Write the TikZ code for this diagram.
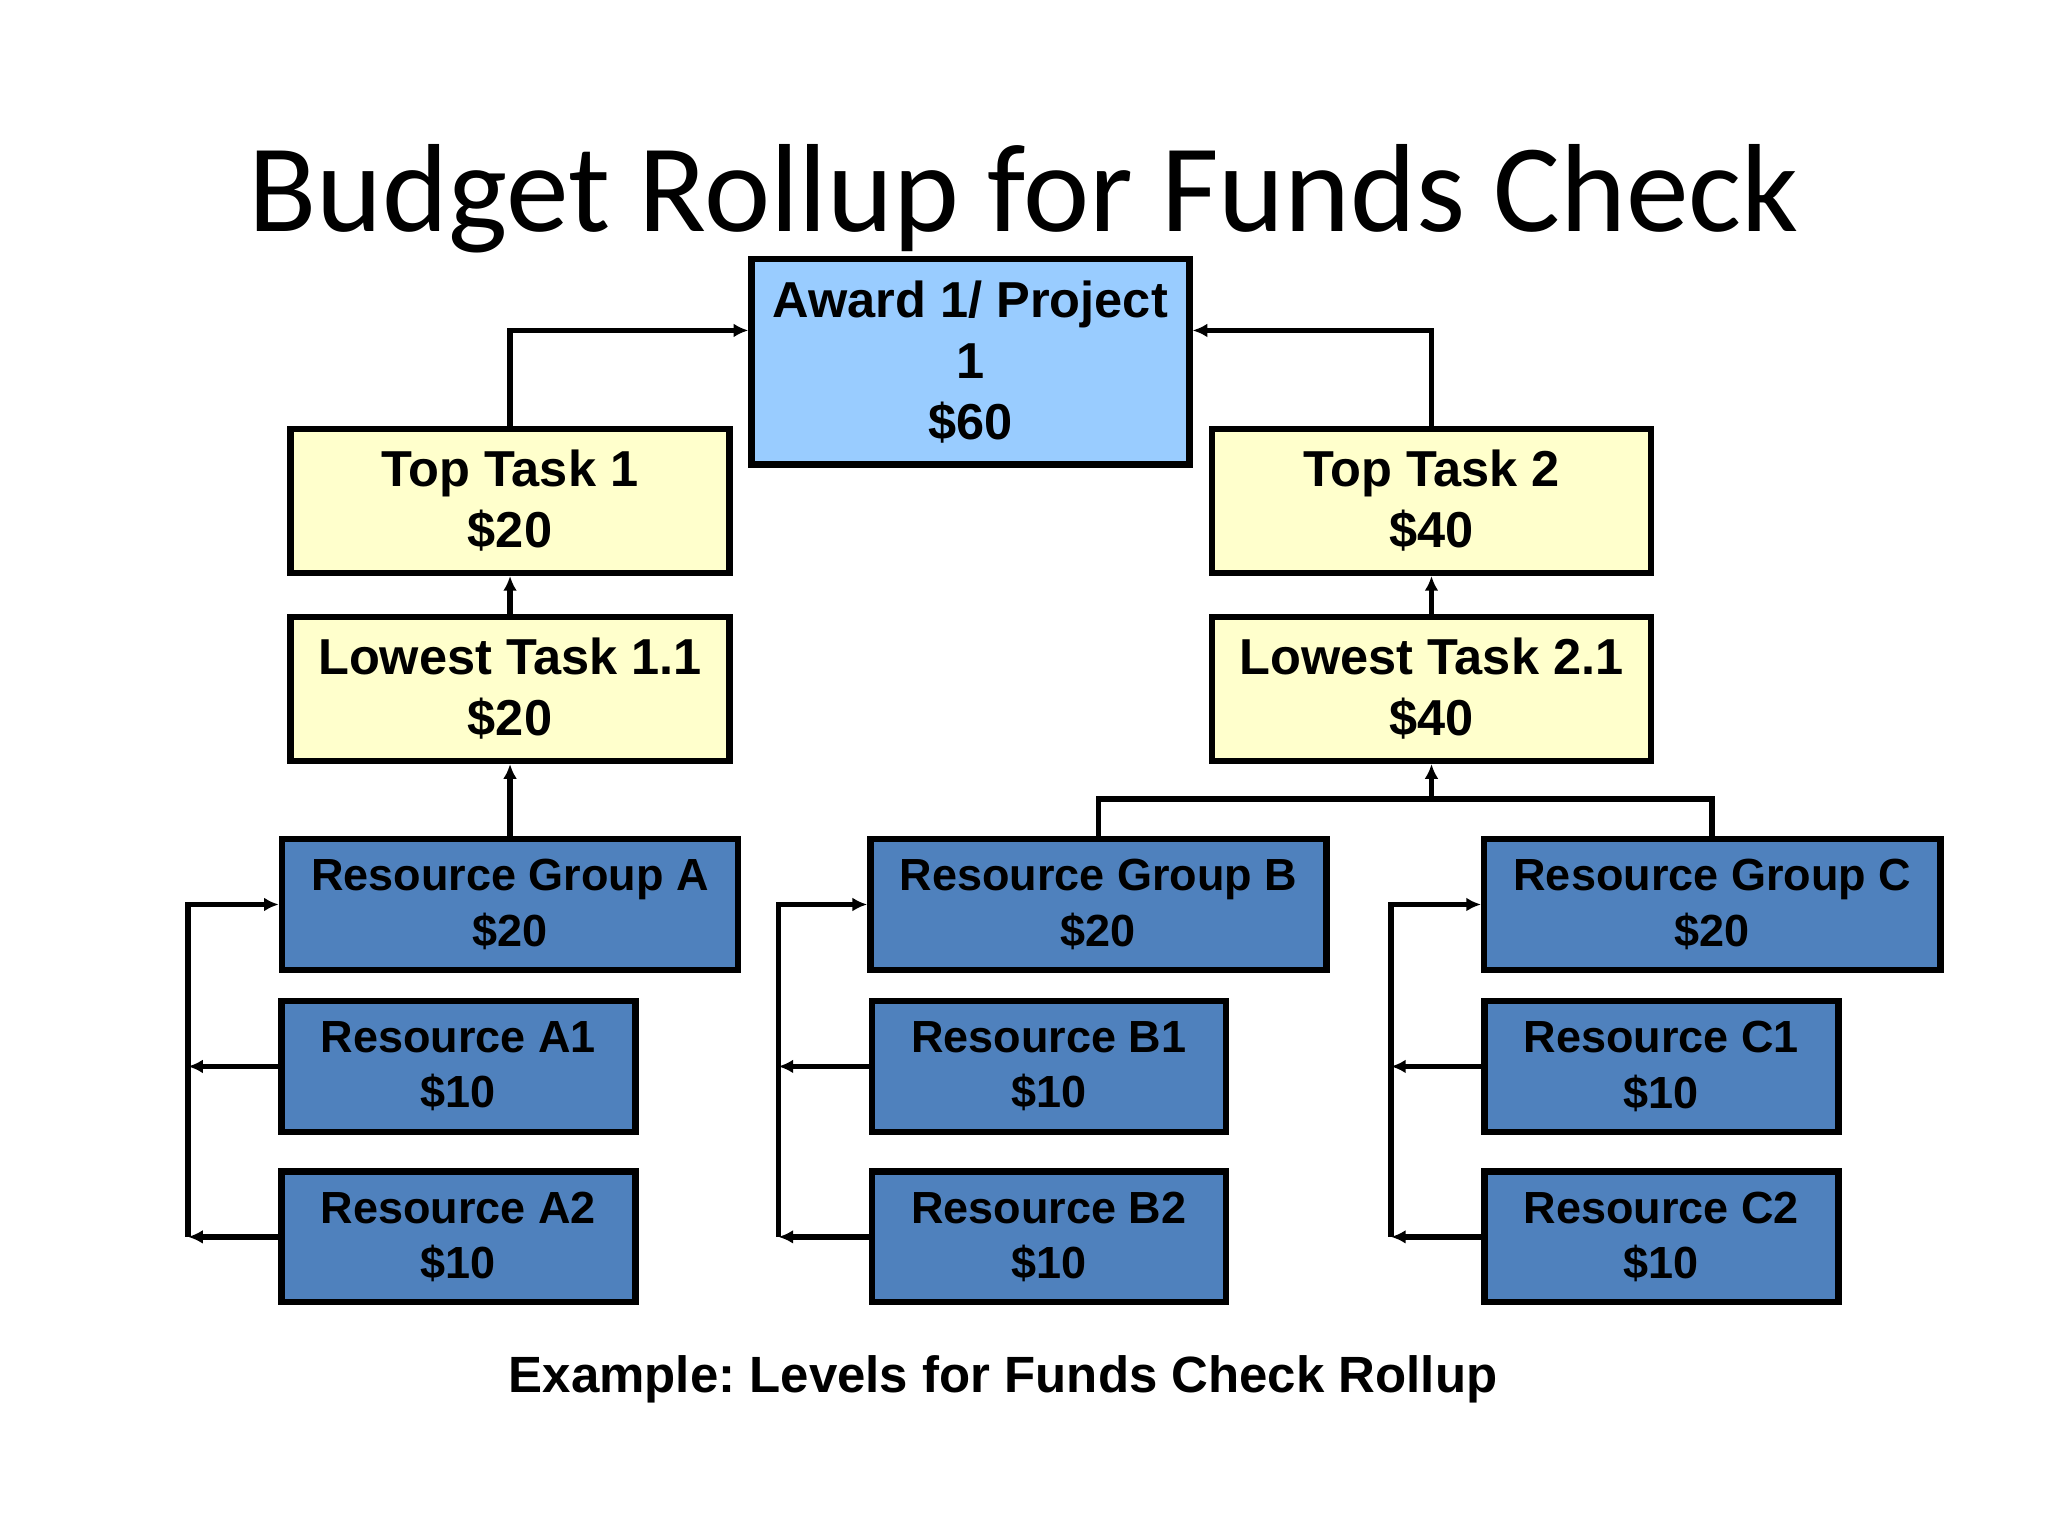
\documentclass[tikz,border=0pt]{standalone}
\usepackage{fontspec}
\setmainfont{Liberation Sans}
\newfontfamily\titlefont{Carlito}
\usetikzlibrary{arrows.meta}
\definecolor{resblue}{HTML}{4F81BD}
\definecolor{awardblue}{HTML}{99CCFF}
\definecolor{taskyellow}{HTML}{FFFFCC}
\frenchspacing
\begin{document}
\begin{tikzpicture}[x=0.01cm,y=-0.01cm,
  box/.style={draw=black, line width=1.4pt, rectangle, inner sep=0pt, align=center,
    font=\bfseries\fontsize{11}{13.3}\selectfont},
  award/.style={box, fill=awardblue, minimum width=3.35cm, minimum height=1.57cm},
  task/.style={box, fill=taskyellow, minimum width=3.36cm, minimum height=1.10cm},
  group/.style={box, fill=resblue, minimum width=3.49cm, minimum height=1.00cm,
    font=\bfseries\fontsize{9.8}{12}\selectfont},
  res/.style={box, fill=resblue, minimum width=2.71cm, minimum height=1.00cm,
    font=\bfseries\fontsize{9.8}{12}\selectfont},
  link/.style={line width=1.25pt},
  conn/.style={line width=1.25pt, -{Latex[length=3.2pt,width=3pt]}}]
\useasboundingbox (0,0) rectangle (1568,1176);
\fill[white] (0,0) rectangle (1568,1176);

\node[font=\titlefont\fontsize{27.3}{32}\selectfont, anchor=base] (title) at (784,177) {Budget Rollup for Funds Check};

\node[award] (award) at (743,277) {Award 1/ Project\\1\\\$60};
\node[task] (tt1) at (390.5,383.5) {Top Task 1\\\$20};
\node[task] (tt2) at (1096,383.5) {Top Task 2\\\$40};
\node[task] (lt1) at (390.5,527.5) {Lowest Task 1.1\\\$20};
\node[task] (lt2) at (1096,527.5) {Lowest Task 2.1\\\$40};

\node[group] (rgA) at (390.5,692.5) {Resource Group A\\\$20};
\node[group] (rgB) at (841,692.5) {Resource Group B\\\$20};
\node[group] (rgC) at (1311,692.5) {Resource Group C\\\$20};

\node[res] (rA1) at (351,816.5) {Resource A1\\\$10};
\node[res] (rA2) at (351,947) {Resource A2\\\$10};
\node[res] (rB1) at (803,816.5) {Resource B1\\\$10};
\node[res] (rB2) at (803,947) {Resource B2\\\$10};
\node[res] (rC1) at (1272,816.5) {Resource C1\\\$10};
\node[res] (rC2) at (1272,947) {Resource C2\\\$10};

\node[font=\bfseries\fontsize{11.1}{13}\selectfont, anchor=base] (caption) at (768,1066) {Example: Levels for Funds Check Rollup};

% connectors
\coordinate (ytop) at (0,253);
\coordinate (ybar) at (0,612);
\coordinate (ax) at (144,0);
\coordinate (bx) at (596,0);
\coordinate (cx) at (1065,0);

\draw[conn] (tt1.north) |- (award.west |- ytop);
\draw[conn] (tt2.north) |- (award.east |- ytop);
\draw[conn] (lt1.north) -- (tt1.south);
\draw[conn] (lt2.north) -- (tt2.south);
\draw[conn] (rgA.north) -- (lt1.south);
\draw[link] (rgB.north) |- (rgC.north |- ybar) -- (rgC.north);
\draw[conn] (lt2.south |- ybar) -- (lt2.south);

\draw[conn] (ax |- rA2.west) |- (rgA.west);
\draw[conn] (rA1.west) -- (ax |- rA1.west);
\draw[conn] (rA2.west) -- (ax |- rA2.west);

\draw[conn] (bx |- rB2.west) |- (rgB.west);
\draw[conn] (rB1.west) -- (bx |- rB1.west);
\draw[conn] (rB2.west) -- (bx |- rB2.west);

\draw[conn] (cx |- rC2.west) |- (rgC.west);
\draw[conn] (rC1.west) -- (cx |- rC1.west);
\draw[conn] (rC2.west) -- (cx |- rC2.west);
\end{tikzpicture}
\end{document}
